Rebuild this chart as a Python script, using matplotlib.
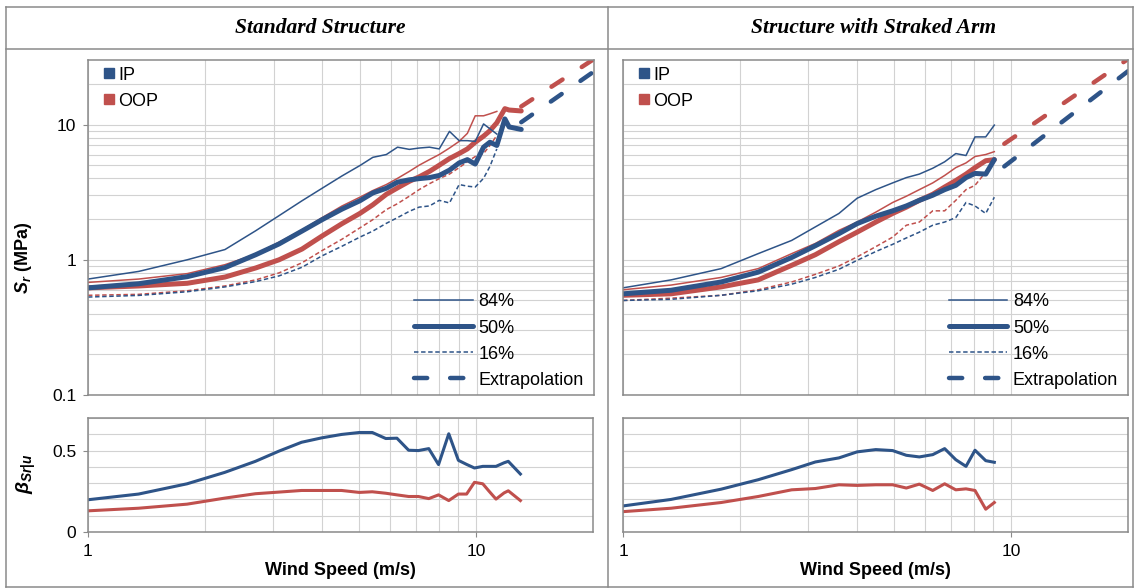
# -*- coding: utf-8 -*-
"""Stress range percentiles and dispersion versus wind speed for two structures."""

import matplotlib

matplotlib.use("Agg")

import matplotlib.pyplot as plt
import numpy as np
from matplotlib.lines import Line2D
from matplotlib.ticker import FixedFormatter, FixedLocator, NullFormatter

nan = np.nan

# ---- Standard structure -------------------------------------------------
u_std = [1.0, 1.35, 1.8, 2.25, 2.7, 3.1, 3.55, 4.0, 4.5, 5.0,
         5.4, 5.85, 6.25, 6.7, 7.1, 7.55, 8.0, 8.5, 9.0, 9.45,
         9.9, 10.4, 10.8, 11.25, 11.8, 12.1, 13.0]
ip_std_84 = [0.72, 0.82, 1.0, 1.19, 1.64, 2.12, 2.73, 3.38, 4.17, 4.97,
             5.72, 6.0, 6.8, 6.55, 6.7, 6.8, 6.6, 8.9, 7.6, 7.6,
             7.5, 10.1, 9.3, 8.5, nan, nan, nan]
ip_std_50 = [0.62, 0.665, 0.75, 0.875, 1.09, 1.31, 1.63, 1.98, 2.37, 2.73,
             3.12, 3.38, 3.75, 3.9, 3.98, 4.05, 4.2, 4.6, 5.2, 5.5,
             5.1, 6.8, 7.4, 7.0, 11.0, 9.6, 9.2]
ip_std_16 = [0.53, 0.545, 0.58, 0.63, 0.69, 0.76, 0.88, 1.07, 1.26, 1.47,
             1.63, 1.86, 2.05, 2.28, 2.45, 2.5, 2.75, 2.63, 3.6, 3.5,
             3.45, 4.0, 4.9, 6.6, nan, nan, nan]
oop_std_84 = [0.68, 0.72, 0.79, 0.92, 1.1, 1.35, 1.66, 2.05, 2.5, 2.9,
              3.25, 3.6, 4.0, 4.5, 5.0, 5.5, 6.0, 6.7, 7.5, 8.6,
              11.6, 11.6, 12.0, 12.5, nan, nan, nan]
oop_std_50 = [0.62, 0.64, 0.67, 0.745, 0.87, 1.0, 1.2, 1.5, 1.85, 2.2,
              2.55, 3.05, 3.4, 3.8, 4.1, 4.5, 5.0, 5.6, 6.1, 6.6,
              7.4, 8.2, 9.0, 10.3, 13.1, 12.8, 12.6]
oop_std_16 = [0.546, 0.555, 0.59, 0.64, 0.71, 0.8, 0.95, 1.17, 1.42, 1.72,
              1.98, 2.35, 2.6, 2.95, 3.3, 3.65, 3.98, 4.3, 4.8, 5.3,
              5.8, 6.1, 7.0, 8.3, nan, nan, nan]
beta_ip_std = [0.198, 0.233, 0.296, 0.366, 0.434, 0.496, 0.551, 0.578, 0.599, 0.611,
               0.611, 0.574, 0.576, 0.502, 0.5, 0.512, 0.414, 0.603, 0.44, 0.415,
               0.393, 0.403, 0.403, 0.403, 0.425, 0.434, 0.356]
beta_oop_std = [0.13, 0.146, 0.171, 0.208, 0.235, 0.245, 0.255, 0.255, 0.255, 0.243,
                0.247, 0.238, 0.228, 0.218, 0.218, 0.205, 0.228, 0.193, 0.233, 0.233,
                0.305, 0.296, 0.25, 0.202, 0.24, 0.253, 0.193]
ext_u_std = [13.0, 20.0]
ext_ip_std = [10.4, 24.7]
ext_oop_std = [13.6, 30.5]

# ---- Structure with straked arm ------------------------------------------
u_strk = [1.0, 1.33, 1.79, 2.23, 2.72, 3.13, 3.6, 4.01, 4.48, 4.95,
          5.37, 5.8, 6.28, 6.74, 7.2, 7.65, 8.07, 8.6, 9.05]
ip_strk_84 = [0.62, 0.71, 0.86, 1.11, 1.39, 1.75, 2.2, 2.85, 3.3, 3.7,
              4.05, 4.3, 4.75, 5.3, 6.1, 5.9, 8.1, 8.1, 9.9]
ip_strk_50 = [0.56, 0.595, 0.685, 0.81, 1.04, 1.27, 1.56, 1.85, 2.1, 2.3,
              2.5, 2.75, 3.0, 3.3, 3.55, 4.05, 4.35, 4.3, 5.5]
ip_strk_16 = [0.5, 0.51, 0.546, 0.59, 0.66, 0.74, 0.85, 0.99, 1.15, 1.3,
              1.45, 1.6, 1.8, 1.9, 2.05, 2.65, 2.5, 2.2, 2.9]
oop_strk_84 = [0.6, 0.65, 0.74, 0.86, 1.11, 1.32, 1.65, 1.9, 2.25, 2.65,
               2.95, 3.3, 3.7, 4.2, 4.8, 5.2, 5.8, 6.0, 6.3]
oop_strk_50 = [0.546, 0.56, 0.63, 0.71, 0.91, 1.09, 1.36, 1.6, 1.9, 2.2,
               2.45, 2.75, 3.05, 3.45, 3.85, 4.3, 4.8, 5.4, 5.5]
oop_strk_16 = [0.5, 0.52, 0.546, 0.6, 0.685, 0.78, 0.9, 1.05, 1.25, 1.47,
               1.8, 1.9, 2.3, 2.3, 2.75, 3.3, 3.55, 4.45, 5.3]
beta_ip_strk = [0.16, 0.2, 0.263, 0.321, 0.383, 0.43, 0.455, 0.492, 0.506, 0.5,
                0.471, 0.461, 0.475, 0.512, 0.444, 0.403, 0.502, 0.438, 0.428]
beta_oop_strk = [0.125, 0.146, 0.181, 0.218, 0.259, 0.267, 0.29, 0.286, 0.29, 0.29,
                 0.27, 0.294, 0.255, 0.296, 0.259, 0.265, 0.255, 0.14, 0.181]
ext_u_strk = [9.6, 20.0]
ext_ip_strk = [4.9, 24.8]
ext_oop_strk = [7.2, 30.5]

titles = ["Standard Structure", "Structure with Straked Arm"]
pct_labels = ["84%", "50%", "16%", "Extrapolation"]
group_labels = ["IP", "OOP"]

BLUE = "#2E5488"
RED = "#C0504D"
GRID = "#D2D2D2"
FRAME = "#8A8A8A"

plt.rcParams["font.family"] = ["Liberation Sans", "DejaVu Sans"]
plt.rcParams["mathtext.fontset"] = "custom"
plt.rcParams["mathtext.it"] = "Liberation Sans:bold:italic"
plt.rcParams["mathtext.rm"] = "Liberation Sans:bold"
plt.rcParams["mathtext.bf"] = "Liberation Sans:bold"
plt.rcParams["lines.scale_dashes"] = False

W, H = 1136, 588
fig = plt.figure(figsize=(W / 100, H / 100), dpi=100)


def px_box(x0, y0, x1, y1):
    """Axes rectangle from pixel corners (origin top-left)."""
    return [x0 / W, 1 - y1 / H, (x1 - x0) / W, (y1 - y0) / H]


STYLE_84 = dict(lw=1.1, ls="-")
STYLE_50 = dict(lw=3.6, ls="-", solid_capstyle="round", solid_joinstyle="round")
STYLE_16 = dict(lw=1.1, ls=(0, (3.2, 1.9)))
STYLE_EXT = dict(lw=3.2, ls=(0, (9.5, 16.5)), dash_capstyle="round")


def frame_axes(ax, left_labels):
    for sp in ax.spines.values():
        sp.set_color(FRAME)
        sp.set_linewidth(1.1)
    ax.set_axisbelow(True)
    ax.grid(True, which="both", color=GRID, lw=0.8)
    ax.tick_params(which="major", direction="out", length=3.5, width=0.8,
                   color=FRAME, labelsize=12.5, pad=5)
    ax.tick_params(which="minor", length=0)
    if not left_labels:
        ax.tick_params(axis="y", which="both", length=0)


def draw_column(box_top, box_bot, u, ip, oop, beta_ip, beta_oop,
                ext_u, ext_ip, ext_oop, left_labels):
    ax = fig.add_axes(px_box(*box_top))
    axb = fig.add_axes(px_box(*box_bot))

    # percentile curves, OOP under IP
    for vals, col in ((oop, RED), (ip, BLUE)):
        ax.plot(u, vals[0], color=col, **STYLE_84)
        ax.plot(u, vals[1], color=col, **STYLE_50)
        ax.plot(u, vals[2], color=col, **STYLE_16)
    ax.plot(ext_u, ext_oop, color=RED, **STYLE_EXT)
    ax.plot(ext_u, ext_ip, color=BLUE, **STYLE_EXT)

    ax.set_xscale("log")
    ax.set_yscale("log")
    ax.set_xlim(1, 20)
    ax.set_ylim(0.1, 30)
    frame_axes(ax, left_labels)
    ax.xaxis.set_major_locator(FixedLocator([1, 10]))
    ax.xaxis.set_minor_locator(FixedLocator([2, 3, 4, 5, 6, 7, 8, 9]))
    ax.xaxis.set_major_formatter(NullFormatter())
    ax.xaxis.set_minor_formatter(NullFormatter())
    ax.tick_params(axis="x", which="both", length=0)
    ax.yaxis.set_major_locator(FixedLocator([0.1, 1, 10]))
    ax.yaxis.set_minor_locator(FixedLocator(
        [k * 0.1 for k in range(2, 10)] + list(range(2, 10)) + [20]))
    ax.yaxis.set_minor_formatter(NullFormatter())
    if left_labels:
        ax.yaxis.set_major_formatter(FixedFormatter(["0.1", "1", "10"]))
    else:
        ax.yaxis.set_major_formatter(NullFormatter())

    # legends
    grp = [Line2D([], [], marker="s", ms=6.5, ls="None", color=c) for c in (BLUE, RED)]
    leg1 = ax.legend(grp, group_labels, loc="upper left", bbox_to_anchor=(0.03, 0.98),
                     frameon=False, fontsize=13, handlelength=0.7, handletextpad=0.15,
                     borderpad=0, borderaxespad=0, labelspacing=0.5)
    ax.add_artist(leg1)
    pct = [Line2D([], [], color=BLUE, **STYLE_84),
           Line2D([], [], color=BLUE, **STYLE_50),
           Line2D([], [], color=BLUE, **STYLE_16),
           Line2D([], [], color=BLUE, **STYLE_EXT)]
    ax.legend(pct, pct_labels, loc="upper left", bbox_to_anchor=(0.645, 0.303),
              frameon=False, fontsize=13, handlelength=3.25, handletextpad=0.3,
              borderpad=0, borderaxespad=0, labelspacing=0.5)

    # dispersion
    axb.plot(u, beta_oop, color=RED, lw=2.2)
    axb.plot(u, beta_ip, color=BLUE, lw=2.2)
    axb.set_xscale("log")
    axb.set_xlim(1, 20)
    axb.set_ylim(0, 0.7)
    frame_axes(axb, left_labels)
    axb.xaxis.set_major_locator(FixedLocator([1, 10]))
    axb.xaxis.set_minor_locator(FixedLocator([2, 3, 4, 5, 6, 7, 8, 9]))
    axb.xaxis.set_major_formatter(FixedFormatter(["1", "10"]))
    axb.xaxis.set_minor_formatter(NullFormatter())
    axb.yaxis.set_major_locator(FixedLocator([0, 0.5]))
    axb.yaxis.set_minor_locator(FixedLocator([0.1, 0.2, 0.3, 0.4, 0.6, 0.7]))
    if left_labels:
        axb.yaxis.set_major_formatter(FixedFormatter(["0", "0.5"]))
    else:
        axb.yaxis.set_major_formatter(NullFormatter())
    axb.set_xlabel("Wind Speed (m/s)", fontsize=13, fontweight="bold", labelpad=2)
    return ax, axb


draw_column((88, 60, 594, 395), (88, 418, 593, 532), u_std,
            (ip_std_84, ip_std_50, ip_std_16), (oop_std_84, oop_std_50, oop_std_16),
            beta_ip_std, beta_oop_std, ext_u_std, ext_ip_std, ext_oop_std, True)
draw_column((623, 60, 1128, 395), (623, 418, 1128, 532), u_strk,
            (ip_strk_84, ip_strk_50, ip_strk_16), (oop_strk_84, oop_strk_50, oop_strk_16),
            beta_ip_strk, beta_oop_strk, ext_u_strk, ext_ip_strk, ext_oop_strk, False)

# axis titles shared by the columns
fig.text(24 / W, 1 - 258 / H, r"$S_r$ (MPa)", rotation=90, fontsize=13,
         fontweight="bold", ha="center", va="center")
fig.text(26 / W, 1 - 474 / H, r"$\beta_{Sr|u}$", rotation=90, fontsize=14,
         ha="center", va="center")

# table frame around the two columns
for xs, ys in (([6, 1133], [7, 7]), ([6, 1133], [49, 49]), ([6, 1133], [587, 587]),
               ([6, 6], [7, 587]), ([1133, 1133], [7, 587]), ([608, 608], [7, 587])):
    fig.add_artist(Line2D([x / W for x in xs], [1 - y / H for y in ys],
                          transform=fig.transFigure, color=FRAME, lw=1.1))

for title, xc in zip(titles, (320, 874)):
    fig.text(xc / W, 1 - 28 / H, title, ha="center", va="center", fontsize=15.5,
             fontweight="bold", fontstyle="italic", family="Liberation Serif")

plt.savefig("out.png", dpi=100)
